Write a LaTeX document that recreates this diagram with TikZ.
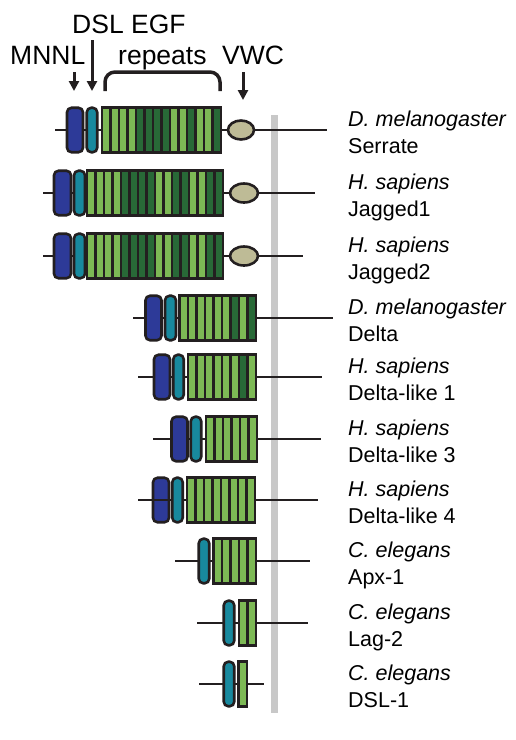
\documentclass[tikz,border=0pt]{standalone}
\usepackage{fontspec}
\setmainfont{Liberation Sans}
\usepackage{xcolor}
\usepackage{tikz}
\usetikzlibrary{arrows.meta,positioning,calc,shapes.geometric}
\definecolor{mnnlblue}{RGB}{45,58,152}
\definecolor{dslteal}{RGB}{24,137,158}
\definecolor{egfL}{RGB}{125,185,85}
\definecolor{egfD}{RGB}{40,105,55}
\definecolor{vwctan}{RGB}{190,187,150}
\definecolor{membgray}{RGB}{200,200,200}
\definecolor{outline}{RGB}{35,31,32}
% EGF repeats: #1 row, #2 left x, #3 centre y, #4 stripes (L/D)
\newcommand{\egfblock}[4]{%
  \foreach \c [count=\i from 0] in {#4}{
    \node[egf, fill=egf\c] (egf#1-\i) at ({#2+(\i+0.5)*8.5}, #3) {};
  }}

\begin{document}
\begin{tikzpicture}[
  x=1pt, y=-1pt,
  dom/.style={draw=outline, line width=2.6pt, inner sep=0pt, outer sep=0pt,
    minimum height=44.5pt, rounded corners=4.5pt},
  mnnl/.style={dom, fill=mnnlblue, minimum width=16pt},
  dsl/.style={dom, fill=dslteal, minimum width=10.5pt},
  egf/.style={draw=outline, line width=2.6pt, inner sep=0pt, outer sep=0pt,
    minimum width=8.5pt, minimum height=44.5pt},
  vwc/.style={ellipse, draw=outline, line width=2.6pt, fill=vwctan,
    inner sep=0pt, minimum width=26pt, minimum height=19pt},
  backbone/.style={draw=outline, line width=2.5pt},
  head/.style={anchor=base west, inner sep=0pt,
    font=\fontsize{26.5}{30}\selectfont},
  species/.style={anchor=base west, inner sep=0pt,
    font=\fontsize{21.5}{25}\selectfont\itshape},
  gene/.style={anchor=base west, inner sep=0pt,
    font=\fontsize{21.5}{25}\selectfont},
  arr/.style={-{Triangle[length=10pt, width=10pt]}, line width=3pt, outline},
  >=Stealth
]
  \useasboundingbox (0,0) rectangle (516,740);

  % domain labels (top)
  \node[head] (hmnnl) at (10,64) {MNNL};
  \node[head] (hdsl) at (72,33) {DSL EGF};
  \node[head] (hrep) at (118,64) {repeats};
  \node[head] (hvwc) at (222,64) {VWC};
  \coordinate (am0) at (74,72);  \coordinate (am1) at (74,91);
  \coordinate (ad0) at (92,40);  \coordinate (ad1) at (92,91);
  \coordinate (av0) at (243,72); \coordinate (av1) at (243,100);
  \draw[arr] (am0) -- (am1);
  \draw[arr] (ad0) -- (ad1);
  \draw[arr] (av0) -- (av1);
  \coordinate (br0) at (105,91); \coordinate (br1) at (220,91);
  \draw[outline, line width=3.5pt, rounded corners=10pt]
    (br0) -- (105,72) -- (220,72) -- (br1);

  % membrane
  \node[fill=membgray, inner sep=0pt, minimum width=7pt, minimum height=598pt]
    (memb) at (274.5,414) {};

  % D. melanogaster Serrate
  \coordinate (s1) at (55,130); \coordinate (t1) at (327,130);
  \draw[backbone] (s1) -- (t1);
  \node[mnnl] (m1) at (75,130) {};
  \node[dsl] (d1) at (92,130) {};
  \egfblock{1}{102}{130}{L,L,L,L,D,D,D,D,L,L,D,L,L,D}
  \node[vwc] (v1) at (241,130) {};
  \node[species] (sp1) at (348,126) {D. melanogaster};
  \node[gene] (gn1) at (348,153) {Serrate};

  % H. sapiens Jagged1
  \coordinate (s2) at (43,193); \coordinate (t2) at (315,193);
  \draw[backbone] (s2) -- (t2);
  \node[mnnl, minimum width=17pt] (m2) at (62.5,193) {};
  \node[dsl, minimum width=11pt] (d2) at (79.5,193) {};
  \egfblock{2}{87}{193}{L,L,L,L,D,D,D,D,L,L,D,D,L,L,D,D}
  \node[vwc, minimum width=28pt] (v2) at (244,193) {};
  \node[species] (sp2) at (348,189) {H. sapiens};
  \node[gene] (gn2) at (348,216) {Jagged1};

  % H. sapiens Jagged2
  \coordinate (s3) at (43,256); \coordinate (t3) at (303,256);
  \draw[backbone] (s3) -- (t3);
  \node[mnnl, minimum width=17pt] (m3) at (62.5,256) {};
  \node[dsl, minimum width=11pt] (d3) at (79.5,256) {};
  \egfblock{3}{87}{256}{L,L,L,L,D,D,D,D,L,L,D,D,L,L,D,D}
  \node[vwc, minimum width=28pt] (v3) at (244,256) {};
  \node[species] (sp3) at (348,252) {H. sapiens};
  \node[gene] (gn3) at (348,279) {Jagged2};

  % D. melanogaster Delta
  \coordinate (s4) at (133,318); \coordinate (t4) at (333,318);
  \draw[backbone] (s4) -- (t4);
  \node[mnnl] (m4) at (153.5,318) {};
  \node[dsl, minimum width=11pt] (d4) at (170.5,318) {};
  \egfblock{4}{179.5}{318}{L,L,L,L,L,L,D,L,D}
  \node[species] (sp4) at (348,314) {D. melanogaster};
  \node[gene] (gn4) at (348,341) {Delta};

  % H. sapiens Delta-like 1
  \coordinate (s5) at (138,377); \coordinate (t5) at (322,377);
  \draw[backbone] (s5) -- (t5);
  \node[mnnl] (m5) at (162,377) {};
  \node[dsl] (d5) at (178.5,377) {};
  \egfblock{5}{188}{377}{L,L,L,L,L,L,D,L}
  \node[species] (sp5) at (348,373) {H. sapiens};
  \node[gene] (gn5) at (348,400) {Delta-like 1};

  % H. sapiens Delta-like 3
  \coordinate (s6) at (153,439); \coordinate (t6) at (321,439);
  \draw[backbone] (s6) -- (t6);
  \node[mnnl] (m6) at (179.5,439) {};
  \node[dsl] (d6) at (196,439) {};
  \egfblock{6}{206}{439}{L,L,L,L,L,L}
  \node[species] (sp6) at (348,435) {H. sapiens};
  \node[gene] (gn6) at (348,462) {Delta-like 3};

  % H. sapiens Delta-like 4
  \coordinate (s7) at (138,500); \coordinate (t7) at (318,500);
  \draw[backbone] (s7) -- (t7);
  \node[mnnl] (m7) at (161,500) {};
  \draw[backbone] (m7.west) -- (m7.east);
  \node[dsl] (d7) at (177.5,500) {};
  \egfblock{7}{187}{500}{L,L,L,L,L,L,L,L}
  \node[species] (sp7) at (348,496) {H. sapiens};
  \node[gene] (gn7) at (348,523) {Delta-like 4};

  % C. elegans Apx-1
  \coordinate (s8) at (175,561); \coordinate (t8) at (310,561);
  \draw[backbone] (s8) -- (t8);
  \node[dsl] (d8) at (204,561) {};
  \egfblock{8}{213.5}{561}{L,L,L,L,L}
  \node[species] (sp8) at (348,557) {C. elegans};
  \node[gene] (gn8) at (348,584) {Apx-1};

  % C. elegans Lag-2
  \coordinate (s9) at (197,623); \coordinate (t9) at (308,623);
  \draw[backbone] (s9) -- (t9);
  \node[dsl] (d9) at (229,623) {};
  \egfblock{9}{239}{623}{L,L}
  \node[species] (sp9) at (348,619) {C. elegans};
  \node[gene] (gn9) at (348,646) {Lag-2};

  % C. elegans DSL-1
  \coordinate (s10) at (199,684); \coordinate (t10) at (264,684);
  \draw[backbone] (s10) -- (t10);
  \node[dsl] (d10) at (229,684) {};
  \egfblock{10}{238.5}{684}{L}
  \node[species] (sp10) at (348,680) {C. elegans};
  \node[gene] (gn10) at (348,707) {DSL-1};
\end{tikzpicture}
\end{document}
